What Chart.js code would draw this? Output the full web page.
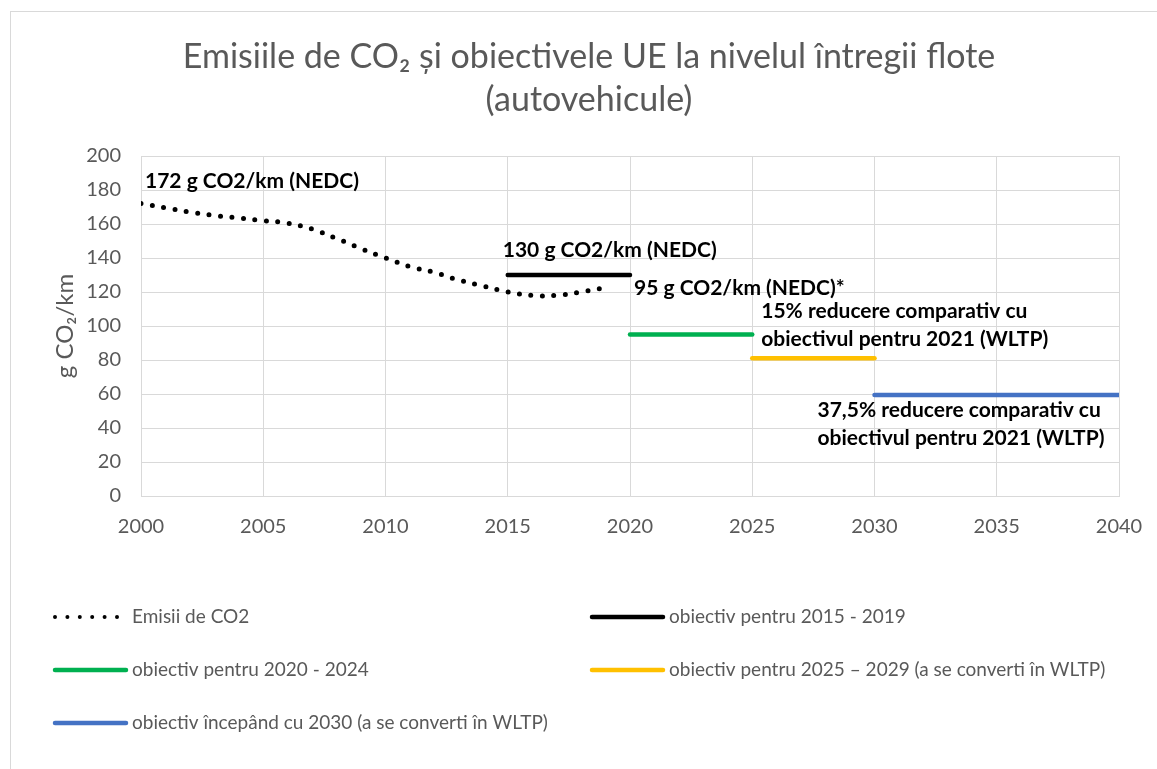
<!DOCTYPE html>
<html>
<head>
<meta charset="utf-8">
<script src="https://cdn.jsdelivr.net/npm/chart.js@4.4.0/dist/chart.umd.min.js"></script>
<style>
  html, body { margin: 0; padding: 0; background: #fff; }
  #wrap { position: absolute; left: 0; top: 0; width: 1157px; height: 769px; overflow: hidden; }
  #frame { position: absolute; left: 10px; top: 11px; width: 1200px; height: 800px;
           border-left: 1px solid #d9d9d9; border-top: 1px solid #d9d9d9; }
  canvas { position: absolute; left: 0; top: 0; }
</style>
</head>
<body>
<div id="wrap">
  <div id="frame"></div>
  <canvas id="co2Chart" width="1157" height="769"></canvas>
</div>
<script>
const titleLines = ["Emisiile de CO\u2082 \u0219i obiectivele UE la nivelul \u00eentregii flote", "(autovehicule)"];
const yTitle = "g CO\u2082/km";

const years = [2000, 2001, 2002, 2003, 2004, 2005, 2006, 2007, 2008, 2009,
               2010, 2011, 2012, 2013, 2014, 2015, 2016, 2017, 2018, 2019];
const emissions = [172, 169.5, 167, 165, 163.5, 162, 160.5, 157, 151.5, 145.5,
                   140, 135, 131.5, 127, 123.5, 120, 118, 118, 120, 122.5];

const targetNames = [
  "obiectiv pentru 2015 - 2019",
  "obiectiv pentru 2020 - 2024",
  "obiectiv pentru 2025 \u2013 2029 (a se converti \u00een WLTP)",
  "obiectiv \u00eencep\u00e2nd cu 2030 (a se converti \u00een WLTP)"
];
const targetFrom = [2015, 2020, 2025, 2030];
const targetTo = [2020, 2025, 2030, 2040];
const targetValues = [130, 95, 81, 59.4];
const targetColors = ["#000000", "#00b050", "#ffc000", "#4472c4"];

const noteText = [
  ["172 g CO2/km (NEDC)"],
  ["130 g CO2/km (NEDC)"],
  ["95 g CO2/km (NEDC)*"],
  ["15% reducere comparativ cu", "obiectivul pentru 2021 (WLTP)"],
  ["37,5% reducere comparativ cu", "obiectivul pentru 2021 (WLTP)"]
];
const noteX = [2000, 2015, 2020, 2025, 2030];
const noteY = [172, 130, 95, 81, 59.4];

const grey = "#595959";
const gridColor = "#d9d9d9";

// pixel offsets of each label from its anchor point
const noteOffsets = [[4, -22], [-5, -25], [4, -46], [9, -47], [-57, 15]];

const datasets = [{
  label: "Emisii de CO2",
  data: years.map((y, i) => ({ x: y, y: emissions[i] })),
  borderColor: "#000",
  borderWidth: 5,
  borderDash: [0, 11.5],
  borderCapStyle: "round",
  tension: 0.4,
  pointRadius: 0,
  fill: false
}];
targetNames.forEach((name, i) => {
  datasets.push({
    label: name,
    data: [{ x: targetFrom[i], y: targetValues[i] }, { x: targetTo[i], y: targetValues[i] }],
    borderColor: targetColors[i],
    borderWidth: 4.5,
    borderCapStyle: "round",
    pointRadius: 0,
    fill: false
  });
});

const titlePlugin = {
  id: "excelTitle",
  afterDraw(chart) {
    const ctx = chart.ctx;
    ctx.save();
    ctx.font = "34px Lato";
    ctx.fillStyle = grey;
    ctx.textAlign = "center";
    ctx.textBaseline = "middle";
    ctx.fillText(titleLines[0], 589, 57);
    ctx.fillText(titleLines[1], 589, 100);
    ctx.restore();
  }
};

const notesPlugin = {
  id: "notes",
  afterDatasetsDraw(chart) {
    const { ctx, scales: { x, y } } = chart;
    ctx.save();
    ctx.font = "bold 21px Lato";
    ctx.fillStyle = "#000";
    ctx.textAlign = "left";
    ctx.textBaseline = "middle";
    noteText.forEach((lines, i) => {
      const px = x.getPixelForValue(noteX[i]) + noteOffsets[i][0];
      const py = y.getPixelForValue(noteY[i]) + noteOffsets[i][1];
      lines.forEach((t, j) => ctx.fillText(t, px, py + j * 28));
    });
    ctx.restore();
  }
};

const legendPlugin = {
  id: "excelLegend",
  afterDraw(chart) {
    const ctx = chart.ctx;
    const cols = [55, 592];
    const rows = [617, 670, 723];
    ctx.save();
    ctx.font = "19px Lato";
    ctx.textBaseline = "middle";
    ctx.textAlign = "left";
    chart.data.datasets.forEach((ds, i) => {
      const cx = cols[i % 2];
      const cy = rows[Math.floor(i / 2)];
      ctx.strokeStyle = ds.borderColor;
      ctx.lineCap = "round";
      ctx.beginPath();
      if (i === 0) {
        ctx.lineWidth = 4;
        ctx.setLineDash([0, 12.4]);
        ctx.moveTo(cx, cy);
        ctx.lineTo(cx + 63, cy);
      } else {
        ctx.lineWidth = 4.5;
        ctx.setLineDash([]);
        ctx.moveTo(cx, cy);
        ctx.lineTo(cx + 71, cy);
      }
      ctx.stroke();
      ctx.fillStyle = grey;
      ctx.fillText(ds.label, cx + 77, cy);
    });
    ctx.restore();
  }
};

new Chart(document.getElementById("co2Chart"), {
  type: "line",
  data: { datasets },
  options: {
    responsive: false,
    animation: false,
    layout: { padding: { left: 11, top: 156, right: 38, bottom: 223 } },
    plugins: { legend: { display: false }, title: { display: false }, tooltip: { enabled: false } },
    scales: {
      x: {
        type: "linear",
        min: 2000,
        max: 2040,
        afterFit: s => { s.height = 50; s.paddingLeft = 0; s.paddingRight = 0; },
        grid: { color: gridColor, drawTicks: false },
        border: { color: gridColor },
        ticks: {
          stepSize: 5,
          padding: 19,
          color: grey,
          font: { family: "Lato", size: 20 },
          callback: v => String(v)
        }
      },
      y: {
        min: 0,
        max: 200,
        afterFit: s => { s.width = 130; },
        grid: { color: gridColor, drawTicks: false },
        border: { color: gridColor },
        ticks: { stepSize: 20, padding: 20, color: grey, font: { family: "Lato", size: 20 } },
        title: {
          display: true,
          text: yTitle,
          color: grey,
          font: { family: "Lato", size: 24 },
          padding: { top: 40, bottom: 0 }
        }
      }
    }
  },
  plugins: [titlePlugin, notesPlugin, legendPlugin]
});
</script>
</body>
</html>
